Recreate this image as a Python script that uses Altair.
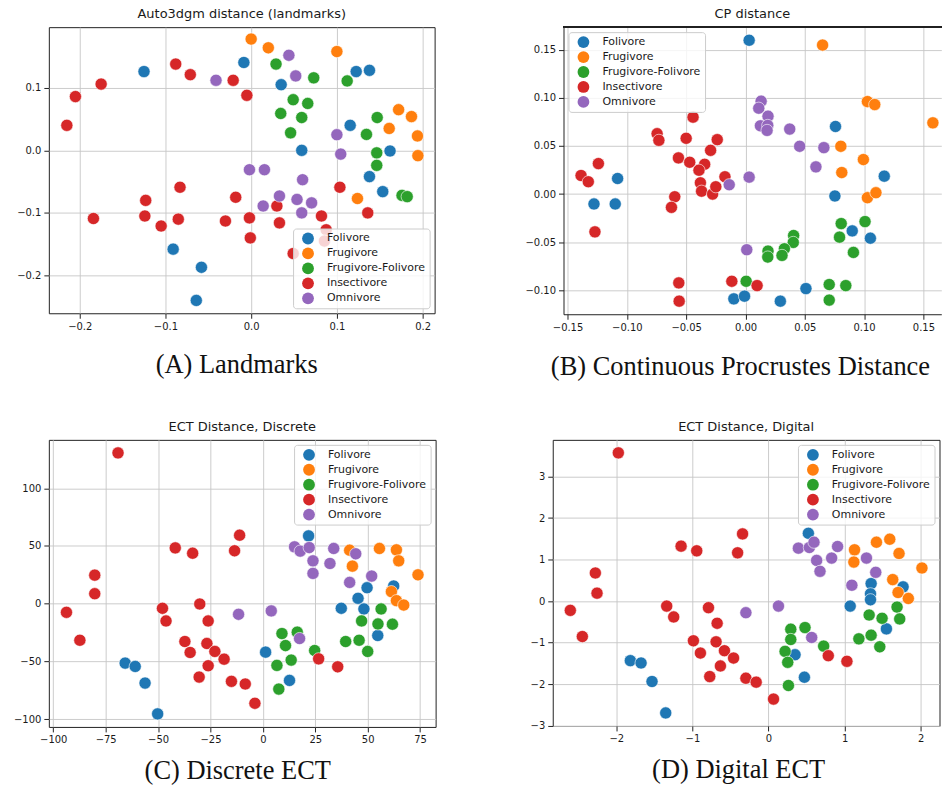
import altair as alt
import pandas as pd

CATS = ["Folivore", "Frugivore", "Frugivore-Folivore", "Insectivore", "Omnivore"]
COLORS = ["#1f77b4", "#ff7f0e", "#2ca02c", "#d62728", "#9467bd"]

# ---------------- Panel A : Auto3dgm distance (landmarks) ----------------
A_fol_x = [-0.125, -0.0085, 0.035, 0.059, 0.1225, 0.138, 0.1155, 0.162, 0.138, 0.1535, -0.091, -0.058, -0.064]
A_fol_y = [0.126, 0.1405, 0.105, 0.000, 0.126, 0.128, 0.040, -0.001, -0.042, -0.066, -0.158, -0.187, -0.240]
A_fru_x = [0.000, 0.020, 0.100, 0.172, 0.187, 0.161, 0.194, 0.1945, 0.124]
A_fru_y = [0.178, 0.164, 0.158, 0.065, 0.054, 0.035, 0.023, -0.0085, -0.077]
A_ff_x = [0.029, 0.073, 0.049, 0.066, 0.0345, 0.059, 0.046, 0.112, 0.147, 0.1345, 0.1465, 0.1465, 0.176, 0.182]
A_ff_y = [0.138, 0.116, 0.081, 0.075, 0.059, 0.0525, 0.028, 0.111, 0.0525, 0.0255, -0.004, -0.024, -0.072, -0.074]
A_ins_x = [-0.215, -0.205, -0.175, -0.088, -0.071, -0.021, -0.005, -0.083, -0.123, -0.124, -0.184, -0.105, -0.085,
           -0.030, -0.018, 0.1035, 0.030, 0.082, 0.136, -0.002, 0.033, -0.001, 0.0875, 0.0855, 0.049]
A_ins_y = [0.040, 0.086, 0.106, 0.138, 0.121, 0.112, 0.088, -0.059, -0.080, -0.105, -0.109, -0.121, -0.110,
           -0.113, -0.075, -0.059, -0.089, -0.105, -0.100, -0.108, -0.116, -0.140, -0.127, -0.145, -0.165]
A_omn_x = [-0.041, 0.044, 0.052, 0.100, 0.1045, -0.002, 0.0155, 0.060, 0.033, 0.014, 0.0535, 0.0705, 0.059]
A_omn_y = [0.112, 0.152, 0.119, 0.025, -0.006, -0.031, -0.031, -0.047, -0.073, -0.089, -0.0785, -0.084, -0.100]

# ---------------- Panel B : CP distance ----------------
B_fol_x = [0.0031, 0.0759, 0.117, 0.0754, 0.090, 0.1053, -0.0098, -0.0008, 0.0294, 0.051, -0.1078, -0.1277, -0.1098]
B_fol_y = [0.160, 0.0703, 0.0186, -0.002, -0.0383, -0.0459, -0.109, -0.1062, -0.1114, -0.0983, 0.0162, -0.0103, -0.0103]
B_fru_x = [0.065, 0.1028, 0.109, 0.158, 0.0804, 0.0994, 0.0812, 0.1028, 0.110]
B_fru_y = [0.155, 0.0962, 0.0931, 0.0741, 0.0497, 0.0359, 0.0224, -0.0038, 0.0014]
B_ff_x = [0.0807, 0.1008, 0.0793, 0.091, 0.0406, 0.0403, 0.0328, 0.0308, 0.019, 0.0188, 0.0006, 0.0706, 0.0846, 0.0706]
B_ff_y = [-0.0307, -0.0286, -0.0448, -0.0607, -0.0431, -0.0503, -0.0569, -0.0638, -0.0593, -0.0655, -0.0907, -0.0941,
          -0.0952, -0.1103]
B_ins_x = [-0.0442, -0.0745, -0.073, -0.050, -0.0238, -0.0294, -0.0565, -0.047, -0.0344, -0.0392, -0.038, -0.037,
           -0.0277, -0.025, -0.0173, -0.0596, -0.0624, -0.1386, -0.1325, -0.124, -0.1269, -0.0562, -0.0559, -0.0115, 0.0098]
B_ins_y = [0.080, 0.0628, 0.0559, 0.058, 0.0566, 0.0455, 0.0376, 0.0331, 0.031, 0.0248, 0.0117, 0.003,
           0.000, 0.0076, 0.018, -0.0028, -0.0138, 0.0193, 0.0128, 0.0317, -0.0393, -0.0924, -0.1114, -0.0907, -0.0952]
B_omn_x = [0.0132, 0.0112, 0.019, 0.0126, 0.0188, 0.0182, 0.0373, 0.0457, 0.0661, 0.0594, 0.0031, -0.0137, 0.0011]
B_omn_y = [0.0966, 0.0893, 0.081, 0.071, 0.0714, 0.0662, 0.0676, 0.0497, 0.0483, 0.0283, 0.0176, 0.0097, -0.0579]

# ---------------- Panel C : ECT Distance, Discrete ----------------
C_fol_x = [21.8, 49.7, 62.4, 45.4, 48.2, 37.4, 54.8, 1.3, 12.7, -65.7, -60.9, -56.2, -50.2]
C_fol_y = [58.7, 13.8, 15.3, 4.6, -4.6, -4.0, -27.6, -42.0, -66.5, -51.5, -54.4, -68.8, -95.5]
C_fru_x = [41.4, 42.7, 55.6, 63.7, 64.8, 74.0, 61.3, 63.7, 67.2]
C_fru_y = [46.3, 32.5, 47.8, 46.6, 37.1, 25.0, 10.4, 2.6, -1.2]
C_ff_x = [56.4, 47.1, 54.9, 61.8, 39.5, 45.9, 50.0, 9.1, 16.4, 10.8, 24.7, 6.7, 13.5, 7.6]
C_ff_y = [-4.6, -15.0, -17.6, -17.8, -32.8, -31.7, -41.4, -25.9, -24.7, -36.3, -40.6, -53.5, -48.9, -74.0]
C_ins_x = [-69.1, -41.8, -33.5, -80.2, -80.2, -93.7, -87.3, -47.9, -46.2, -30.1, -26.1, -37.2, -34.7, -26.7, -22.9,
           -18.5, -26.1, -30.4, -15.0, -11.1, -13.5, -8.4, -3.8, 26.6, 35.7]
C_ins_y = [130.6, 48.3, 43.7, 24.7, 8.6, -7.5, -31.7, -4.0, -15.0, -0.3, -15.0, -32.8, -42.3, -34.5, -41.4,
           -48.1, -53.8, -63.6, -67.3, 59.3, 45.8, -69.6, -86.3, -47.8, -54.7]
C_omn_x = [15.1, 17.8, 22.1, 23.9, 23.9, 33.8, 32.0, 44.3, 51.9, 41.4, 4.0, 17.5, -11.6]
C_omn_y = [49.2, 45.5, 48.6, 37.1, 26.2, 47.8, 34.8, 43.2, 23.9, 18.4, -6.3, -30.2, -9.2]

# ---------------- Panel D : ECT Distance, Digital ----------------
D_fol_x = [0.524, 1.769, 1.349, 1.341, 1.341, 1.074, 1.550, 0.349, 0.472, -1.816, -1.675, -1.531, -1.351]
D_fol_y = [1.633, 0.343, 0.422, 0.175, 0.032, -0.120, -0.669, -1.291, -1.833, -1.434, -1.490, -1.936, -2.693]
D_fru_x = [1.131, 1.122, 1.419, 1.594, 1.716, 2.017, 1.633, 1.703, 1.838]
D_fru_y = [1.235, 0.940, 1.418, 1.490, 1.147, 0.797, 0.518, 0.207, 0.064]
D_ff_x = [1.690, 1.323, 1.493, 1.725, 1.349, 1.188, 1.463, 0.293, 0.293, 0.480, 0.725, 0.218, 0.253, 0.262]
D_ff_y = [-0.143, -0.335, -0.414, -0.430, -0.821, -0.908, -1.100, -0.677, -0.924, -0.637, -1.084, -1.211, -1.474, -2.032]
D_ins_x = [-1.974, -1.149, -0.943, -2.276, -2.254, -2.605, -2.447, -1.338, -1.246, -0.789, -0.675, -0.987, -0.895,
           -0.689, -0.579, -0.459, -0.632, -0.772, -0.341, -0.406, -0.297, -0.162, 0.066, 0.786, 1.031]
D_ins_y = [3.57, 1.323, 1.211, 0.677, 0.191, -0.223, -0.853, -0.120, -0.382, -0.159, -0.534, -0.956, -1.251,
           -0.980, -1.195, -1.371, -1.562, -1.817, 1.618, 1.163, -1.857, -1.952, -2.359, -1.315, -1.450]
D_omn_x = [-0.297, 0.131, 0.393, 0.537, 0.598, 0.908, 0.633, 0.677, 0.830, 1.288, 1.410, 1.096, 0.568]
D_omn_y = [-0.279, -0.120, 1.275, 1.291, 1.418, 1.315, 0.980, 0.717, 1.036, 1.036, 0.693, 0.382, -0.876]


def make_df(groups):
    rows = []
    for cat, (xs, ys) in zip(CATS, groups):
        for x, y in zip(xs, ys):
            rows.append({"x": x, "y": y, "diet": cat})
    df = pd.DataFrame(rows)
    df["idx"] = range(len(df))
    return df


dfA = make_df([(A_fol_x, A_fol_y), (A_fru_x, A_fru_y), (A_ff_x, A_ff_y), (A_ins_x, A_ins_y), (A_omn_x, A_omn_y)])
dfB = make_df([(B_fol_x, B_fol_y), (B_fru_x, B_fru_y), (B_ff_x, B_ff_y), (B_ins_x, B_ins_y), (B_omn_x, B_omn_y)])
dfC = make_df([(C_fol_x, C_fol_y), (C_fru_x, C_fru_y), (C_ff_x, C_ff_y), (C_ins_x, C_ins_y), (C_omn_x, C_omn_y)])
dfD = make_df([(D_fol_x, D_fol_y), (D_fru_x, D_fru_y), (D_ff_x, D_ff_y), (D_ins_x, D_ins_y), (D_omn_x, D_omn_y)])

TEXT = "#1a1a1a"


def panel(df, title, caption, xdom, ydom, xticks, yticks, xfmt, yfmt, w, h,
          legend_orient, cap_x, cap_y, yext, domain_lines=False):
    legend = alt.Legend(
        title=None, orient=legend_orient, offset=5,
        fillColor="rgba(255,255,255,0.8)", strokeColor="#cccccc", cornerRadius=3,
        padding=4, symbolType="circle", symbolSize=140, symbolStrokeWidth=0,
        symbolOpacity=1, symbolOffset=5, labelOffset=13, rowPadding=3,
        labelFont="DejaVu Sans", labelFontSize=11, labelColor=TEXT,
    )
    pts = alt.Chart(df).mark_circle(size=150, opacity=1, stroke="white", strokeWidth=0.6).encode(
        x=alt.X("x:Q", scale=alt.Scale(domain=xdom, nice=False, zero=False),
                axis=alt.Axis(values=xticks, format=xfmt, title=caption, titleX=cap_x, titleY=cap_y,
                              titleAlign="center", titleBaseline="alphabetic",
                              domain=domain_lines, domainColor="#222222", domainWidth=1)),
        y=alt.Y("y:Q", scale=alt.Scale(domain=ydom, nice=False, zero=False),
                axis=alt.Axis(values=yticks, format=yfmt, title=None, minExtent=yext, maxExtent=yext,
                              domain=domain_lines, domainColor="#222222", domainWidth=1)),
        color=alt.Color("diet:N", scale=alt.Scale(domain=CATS, range=COLORS), legend=legend),
        order=alt.Order("idx:Q"),
    )
    if domain_lines:
        top = alt.Chart(df).mark_rule(color="#222222", strokeWidth=1).encode(
            x=alt.value(0), x2=alt.value(w), y=alt.value(0))
        ch = alt.layer(pts, top).properties(width=w, height=h, title=title,
                                             view=alt.ViewBackground(stroke="transparent"))
    else:
        ch = pts.properties(width=w, height=h, title=title)
    return ch


pA = panel(dfA, "Auto3dgm distance (landmarks)", "(A) Landmarks",
           [-0.236, 0.214], [-0.2605, 0.197], [-0.2, -0.1, 0.0, 0.1, 0.2], [-0.2, -0.1, 0.0, 0.1],
           ".1f", ".1f", 387, 287, "bottom-right", 188, 59, 45)
pB = panel(dfB, "CP distance", "(B) Continuous Procrustes Distance",
           [-0.1534, 0.1651], [-0.125, 0.1736], [-0.15, -0.1, -0.05, 0.0, 0.05, 0.1, 0.15],
           [-0.1, -0.05, 0.0, 0.05, 0.1, 0.15],
           ".2f", ".2f", 379, 288, "top-left", 177, 60, 45, domain_lines=True)
pC = panel(dfC, "ECT Distance, Discrete", "(C) Discrete ECT",
           [-102.1, 82.4], [-106.8, 141.9], [-100, -75, -50, -25, 0, 25, 50, 75], [-100, -50, 0, 50, 100],
           "d", "d", 388, 288, "top-right", 189, 52, 44)
pD = panel(dfD, "ECT Distance, Digital", "(D) Digital ECT",
           [-2.836, 2.248], [-3.006, 3.883], [-2, -1, 0, 1, 2], [-3, -2, -1, 0, 1, 2, 3],
           "d", "d", 388, 287, "top-right", 186, 52, 45)

row1 = alt.hconcat(pA, pB, spacing=82.3).resolve_scale(x="independent", y="independent").resolve_legend(color="independent")
row2 = alt.hconcat(pC, pD, spacing=70.5).resolve_scale(x="independent", y="independent").resolve_legend(color="independent")

chart = alt.vconcat(row1, row2, spacing=40).resolve_scale(
    x="independent", y="independent").resolve_legend(color="independent").properties(
    padding={"left": 3, "top": 6, "right": 0, "bottom": 0},
    background="white",
).configure_view(
    stroke="#222222", strokeWidth=1
).configure_axis(
    grid=True, gridColor="#c6c6c6", gridWidth=0.9,
    domain=False, ticks=True, tickColor="#222222", tickSize=5, tickWidth=1,
    labelFont="DejaVu Sans", labelFontSize=10, labelColor=TEXT, labelPadding=3,
    titleFont="Liberation Serif", titleFontSize=26.5, titleFontWeight="normal", titleColor="#111111",
).configure_title(
    font="DejaVu Sans", fontSize=13, fontWeight="normal", color=TEXT, offset=6, anchor="middle",
)

chart.save("out.html", embed_options={"renderer": "svg", "actions": False})
